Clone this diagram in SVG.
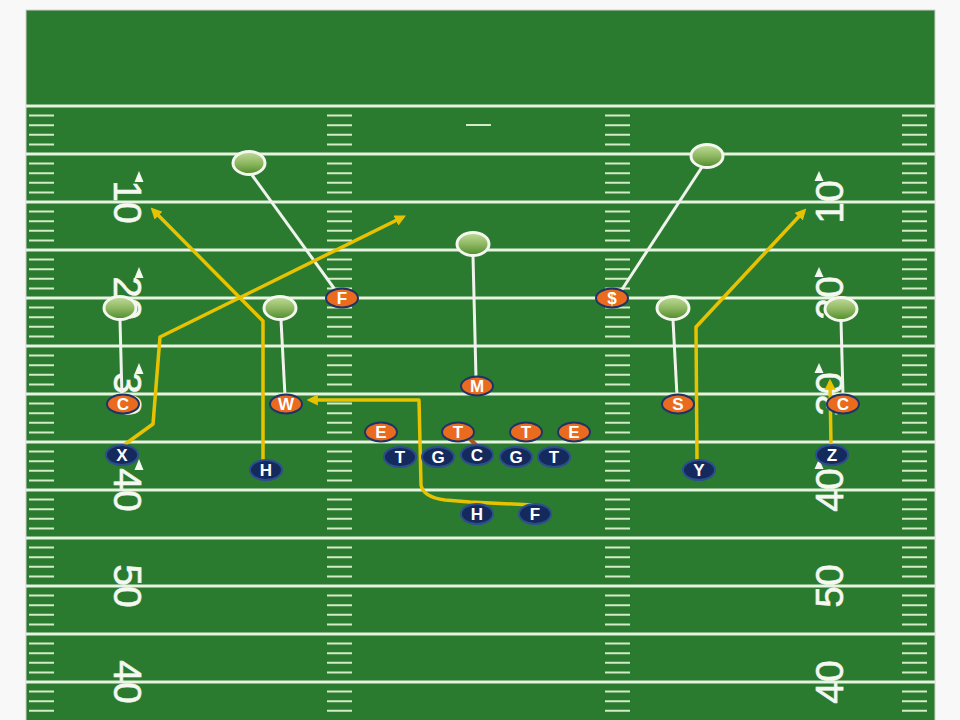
<svg xmlns="http://www.w3.org/2000/svg" width="960" height="720" viewBox="0 0 960 720">
<defs>
<style>
.yl{stroke:#e6f3de;stroke-width:3;fill:none}
.hs{stroke:#d4ecc6;stroke-width:2;fill:none}
.num{font-family:"Liberation Sans",Arial,sans-serif;font-size:39px;fill:#f4f8f0;text-anchor:middle;stroke:#f4f8f0;stroke-width:0.6}
.tri{fill:#f4f8f0}
.zone{fill:url(#zg);stroke:#f4f6f0;stroke-width:3}
.zl{stroke:#f0f2ec;stroke-width:3;fill:none}
.off{fill:#142a5c;stroke:#2d4e8e;stroke-width:2}
.def{fill:#ea6a1e;stroke:#1e3468;stroke-width:2}
.lbl{font-family:"Liberation Sans",Arial,sans-serif;font-weight:bold;font-size:17px;fill:#ffffff;text-anchor:middle}
.rt{stroke:#e8c200;stroke-width:3.5;fill:none;stroke-linejoin:round}
</style>
<linearGradient id="zg" x1="0" y1="0" x2="0" y2="1">
<stop offset="0" stop-color="#c2dc9a"/>
<stop offset="0.5" stop-color="#8fb862"/>
<stop offset="1" stop-color="#4f8a2c"/>
</linearGradient>
<marker id="arr" viewBox="0 0 10 10" refX="7" refY="5" markerWidth="3.2" markerHeight="3.2" orient="auto" markerUnits="strokeWidth">
<path d="M0 0L10 5L0 10z" fill="#e8c200"/>
</marker>
<path id="hcol" d="M0 115.6h25M0 125.2h25M0 134.8h25M0 144.4h25M0 163.6h25M0 173.2h25M0 182.8h25M0 192.4h25M0 211.6h25M0 221.2h25M0 230.8h25M0 240.4h25M0 259.6h25M0 269.2h25M0 278.8h25M0 288.4h25M0 307.6h25M0 317.2h25M0 326.8h25M0 336.4h25M0 355.6h25M0 365.2h25M0 374.8h25M0 384.4h25M0 403.6h25M0 413.2h25M0 422.8h25M0 432.4h25M0 451.6h25M0 461.2h25M0 470.8h25M0 480.4h25M0 499.6h25M0 509.2h25M0 518.8h25M0 528.4h25M0 547.6h25M0 557.2h25M0 566.8h25M0 576.4h25M0 595.6h25M0 605.2h25M0 614.8h25M0 624.4h25M0 643.6h25M0 653.2h25M0 662.8h25M0 672.4h25M0 691.6h25M0 701.2h25M0 710.8h25"/>
</defs>
<rect width="960" height="720" fill="#f8f8f8"/>
<g id="field">
<rect x="26" y="10" width="909" height="712" fill="#2a7b2f" stroke="#d0d0d0" stroke-width="1"/>
<path class="yl" d="M26 106H935M26 154H935M26 202H935M26 250H935M26 298H935M26 346H935M26 394H935M26 442H935M26 490H935M26 538H935M26 586H935M26 634H935M26 682H935"/>
<use href="#hcol" x="29" class="hs"/>
<use href="#hcol" x="327" class="hs"/>
<use href="#hcol" x="605" class="hs"/>
<use href="#hcol" x="902" class="hs"/>
<path class="hs" d="M466 125h25"/>
</g>
<g id="numbers">
<text class="num" transform="translate(128,202) rotate(90)" y="14">10</text>
<text class="num" transform="translate(128,298) rotate(90)" y="14">20</text>
<text class="num" transform="translate(128,394) rotate(90)" y="14">30</text>
<text class="num" transform="translate(128,490) rotate(90)" y="14">40</text>
<text class="num" transform="translate(128,586) rotate(90)" y="14">50</text>
<text class="num" transform="translate(128,682) rotate(90)" y="14">40</text>
<text class="num" transform="translate(829,202) rotate(-90)" y="14">10</text>
<text class="num" transform="translate(829,298) rotate(-90)" y="14">20</text>
<text class="num" transform="translate(829,394) rotate(-90)" y="14">30</text>
<text class="num" transform="translate(829,490) rotate(-90)" y="14">40</text>
<text class="num" transform="translate(829,586) rotate(-90)" y="14">50</text>
<text class="num" transform="translate(829,682) rotate(-90)" y="14">40</text>
<path class="tri" d="M139 171L134.5 182H143.5zM139 267L134.5 278H143.5zM139 363L134.5 374H143.5zM139 459L134.5 470H143.5z"/>
<path class="tri" d="M819 171L814.5 181H823.5zM819 267L814.5 277H823.5zM819 363L814.5 373H823.5zM819 459L814.5 469H823.5z"/>
</g>
<g id="connectors">
<path class="zl" d="M252 175L336 291"/>
<path class="zl" d="M120 320L122 397"/>
<path class="zl" d="M281 320L285 396"/>
<path class="zl" d="M473 256L476 378"/>
<path class="zl" d="M702 167L621 291"/>
<path class="zl" d="M673 320L677 396"/>
<path class="zl" d="M841 320L843 396"/>
<path class="rt" d="M124 445L153 424L160 337L403 217" marker-end="url(#arr)"/>
<path class="rt" d="M263 462L263 321L153 210" marker-end="url(#arr)"/>
<path class="rt" d="M697 462L696 327L804 211" marker-end="url(#arr)"/>
<path class="rt" d="M831 446L830 382" marker-end="url(#arr)"/>
<path class="rt" d="M533 505L470 502L445 500Q423 497 421 485L419 400L310 400" marker-end="url(#arr)"/>
<path d="M469 438L477 446" stroke="#b0541c" stroke-width="4" fill="none"/>
</g>
<g id="zones">
<ellipse id="zone1" class="zone" cx="249" cy="163" rx="16" ry="11.5"/>
<ellipse id="zone2" class="zone" cx="120" cy="308" rx="16" ry="11.5"/>
<ellipse id="zone3" class="zone" cx="280" cy="308" rx="16" ry="11.5"/>
<ellipse id="zone4" class="zone" cx="473" cy="244" rx="16" ry="11.5"/>
<ellipse id="zone5" class="zone" cx="707" cy="156" rx="16" ry="11.5"/>
<ellipse id="zone6" class="zone" cx="673" cy="308" rx="16" ry="11.5"/>
<ellipse id="zone7" class="zone" cx="841" cy="309" rx="16" ry="11.5"/>
</g>
<g id="defense">
<g id="def-c-left"><ellipse class="def" cx="123" cy="404" rx="16" ry="9.5"/><text class="lbl" x="123" y="410">C</text></g>
<g id="def-w"><ellipse class="def" cx="286" cy="404" rx="16" ry="9.5"/><text class="lbl" x="286" y="410">W</text></g>
<g id="def-f"><ellipse class="def" cx="342" cy="298" rx="16" ry="9.5"/><text class="lbl" x="342" y="304">F</text></g>
<g id="def-m"><ellipse class="def" cx="477" cy="386" rx="16" ry="9.5"/><text class="lbl" x="477" y="392">M</text></g>
<g id="def-e1"><ellipse class="def" cx="381" cy="432" rx="16" ry="9.5"/><text class="lbl" x="381" y="438">E</text></g>
<g id="def-t1"><ellipse class="def" cx="458" cy="432" rx="16" ry="9.5"/><text class="lbl" x="458" y="438">T</text></g>
<g id="def-t2"><ellipse class="def" cx="526" cy="432" rx="16" ry="9.5"/><text class="lbl" x="526" y="438">T</text></g>
<g id="def-e2"><ellipse class="def" cx="574" cy="432" rx="16" ry="9.5"/><text class="lbl" x="574" y="438">E</text></g>
<g id="def-s-dollar"><ellipse class="def" cx="612" cy="298" rx="16" ry="9.5"/><text class="lbl" x="612" y="304">$</text></g>
<g id="def-s"><ellipse class="def" cx="678" cy="404" rx="16" ry="9.5"/><text class="lbl" x="678" y="410">S</text></g>
<g id="def-c-right"><ellipse class="def" cx="843" cy="404" rx="16" ry="9.5"/><text class="lbl" x="843" y="410">C</text></g>
</g>
<g id="offense">
<g id="off-x"><ellipse class="off" cx="122" cy="455" rx="16" ry="10"/><text class="lbl" x="122" y="461">X</text></g>
<g id="off-h"><ellipse class="off" cx="266" cy="470" rx="16" ry="10"/><text class="lbl" x="266" y="476">H</text></g>
<g id="off-lt"><ellipse class="off" cx="400" cy="457" rx="16" ry="10"/><text class="lbl" x="400" y="463">T</text></g>
<g id="off-lg"><ellipse class="off" cx="438" cy="457" rx="16" ry="10"/><text class="lbl" x="438" y="463">G</text></g>
<g id="off-c"><ellipse class="off" cx="477" cy="455" rx="16" ry="10"/><text class="lbl" x="477" y="461">C</text></g>
<g id="off-rg"><ellipse class="off" cx="516" cy="457" rx="16" ry="10"/><text class="lbl" x="516" y="463">G</text></g>
<g id="off-rt"><ellipse class="off" cx="554" cy="457" rx="16" ry="10"/><text class="lbl" x="554" y="463">T</text></g>
<g id="off-hb"><ellipse class="off" cx="477" cy="514" rx="16" ry="10"/><text class="lbl" x="477" y="520">H</text></g>
<g id="off-f"><ellipse class="off" cx="535" cy="514" rx="16" ry="10"/><text class="lbl" x="535" y="520">F</text></g>
<g id="off-y"><ellipse class="off" cx="699" cy="470" rx="16" ry="10"/><text class="lbl" x="699" y="476">Y</text></g>
<g id="off-z"><ellipse class="off" cx="832" cy="455" rx="16" ry="10"/><text class="lbl" x="832" y="461">Z</text></g>
</g>
</svg>
